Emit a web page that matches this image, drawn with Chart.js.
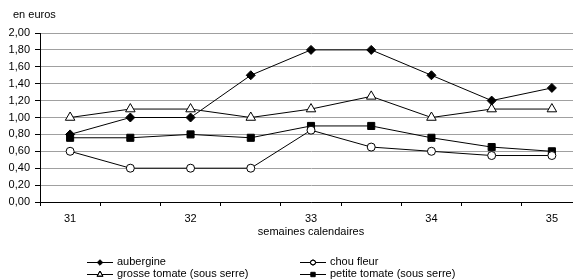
<!DOCTYPE html>
<html><head><meta charset="utf-8">
<script src="https://cdn.jsdelivr.net/npm/chart.js@4/dist/chart.umd.min.js"></script>
<style>html,body{margin:0;padding:0;background:#fff;overflow:hidden;width:573px;height:279px}canvas{display:block}</style>
</head><body>
<canvas id="c" width="590" height="279" style="width:590px;height:279px"></canvas>
<script>
const categories = ['31','','32','','33','','34','','35'];
const seriesNames = ['aubergine','chou fleur','grosse tomate (sous serre)','petite tomate (sous serre)'];
const aubergine = [0.80,1.00,1.00,1.50,1.80,1.80,1.50,1.20,1.35];
const chouFleur = [0.60,0.40,0.40,0.40,0.85,0.65,0.60,0.55,0.55];
const grosseTomate = [1.00,1.10,1.10,1.00,1.10,1.25,1.00,1.10,1.10];
const petiteTomate = [0.76,0.76,0.80,0.76,0.90,0.90,0.76,0.65,0.60];
const yTitle = 'en euros';
const xTitle = 'semaines calendaires';

const FONT = 'Liberation Sans, Arial, sans-serif';
const FS = 11;
const styles = [
  {pointStyle:'rectRot', r:4.5, fill:'#000'},
  {pointStyle:'circle', r:4, fill:'#fff'},
  {pointStyle:'triangle', r:5.5, fill:'#fff'},
  {pointStyle:'rect', r:5, fill:'#000'}
];
const values = [aubergine, chouFleur, grosseTomate, petiteTomate];

const datasets = values.map((v,i)=>({
  label: seriesNames[i], data: v,
  borderColor:'#000', borderWidth:1,
  pointStyle: styles[i].pointStyle, pointRadius: styles[i].r, pointHoverRadius: styles[i].r,
  pointBackgroundColor: styles[i].fill, pointBorderColor:'#000', pointBorderWidth:1,
  tension:0
}));

const extras = {
  id:'extras',
  afterDraw(chart){
    const ctx = chart.ctx;
    ctx.save();
    ctx.fillStyle = '#000';
    ctx.font = FS + 'px ' + FONT;
    ctx.textBaseline = 'middle';
    ctx.textAlign = 'left';
    ctx.fillText(yTitle, 13, 15);
    const pos = [[87,262],[300,262],[87,274],[300,274]];
    seriesNames.forEach((name,i)=>{
      const [x,y] = pos[i];
      ctx.strokeStyle='#000'; ctx.lineWidth=1;
      ctx.beginPath(); ctx.moveTo(x,y+0.5); ctx.lineTo(x+26,y+0.5); ctx.stroke();
      ctx.fillStyle = styles[i].fill;
      Chart.helpers.drawPoint(ctx,{pointStyle:styles[i].pointStyle, radius:styles[i].r*0.62, borderWidth:1}, x+13, y+0.5);
      if (styles[i].fill === '#fff') ctx.stroke();
      ctx.fillStyle = '#000';
      ctx.fillText(name, x+30, y);
    });
    ctx.restore();
  }
};

new Chart(document.getElementById('c'), {
  type:'line',
  data:{labels:categories, datasets},
  plugins:[extras],
  options:{
    responsive:false, animation:false, devicePixelRatio:1,
    layout:{padding:{top:33,right:8,left:0,bottom:0}},
    plugins:{legend:{display:false}, tooltip:{enabled:false}},
    scales:{
      x:{
        offset:true,
        afterFit(s){ s.height = 77; },
        grid:{display:true, offset:true, drawOnChartArea:false, drawTicks:true, tickLength:4, color:'#000'},
        border:{display:true, color:'#000', width:1},
        ticks:{autoSkip:false, maxRotation:0, color:'#000', font:{family:FONT, size:FS}, padding:6},
        title:{display:true, text:xTitle, color:'#000', font:{family:FONT, size:FS}, padding:{top:0,bottom:40}}
      },
      y:{
        min:0, max:2,
        afterFit(s){ s.width = 40; },
        grid:{color:'#a0a0a0', lineWidth:1, drawTicks:true, tickLength:5, tickColor:'#000'},
        border:{display:true, color:'#000', width:1},
        ticks:{stepSize:0.2, color:'#000', padding:5, font:{family:FONT, size:FS},
          callback:(v)=>v.toFixed(2).replace('.',',')}
      }
    }
  }
});
</script>
</body></html>
